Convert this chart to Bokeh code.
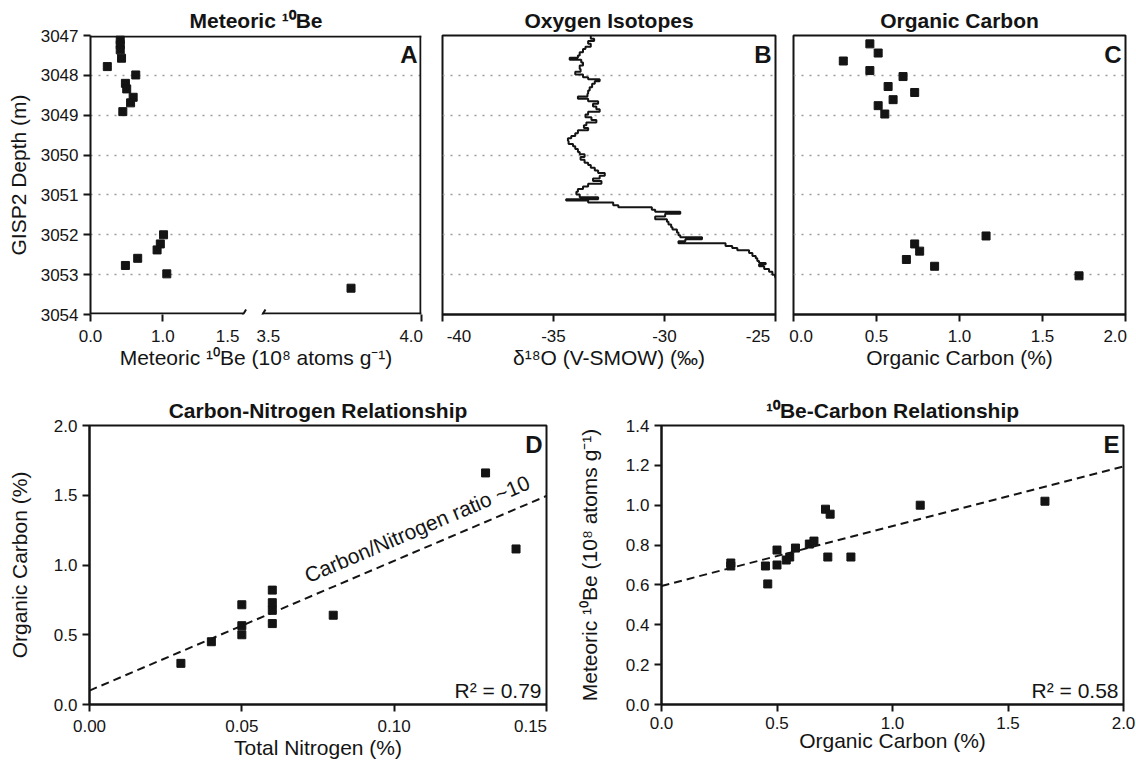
import math
from bokeh.plotting import figure
from bokeh.layouts import column, row
from bokeh.models import Range1d, FixedTicker, Label, LinearAxis
from bokeh.embed import file_html
from bokeh.resources import INLINE

FONT = "Liberation Sans"
INK = "#141414"
GRID = "#9a9a9a"
TICK_PX = 17
AXIS_PX = 21
TITLE_PX = 21
FRAME_H = 279
NB = "\u00a0"

# ---------------- data ----------------
depth_ticks = [3047, 3048, 3049, 3050, 3051, 3052, 3053, 3054]
depth_grid = [3048, 3049, 3050, 3051, 3052, 3053]

# Panel A: meteoric 10Be (1e8 atoms/g) vs depth
be_depth = [3047.11, 3047.23, 3047.36, 3047.57, 3047.78, 3047.99, 3048.20, 3048.34, 3048.55,
            3048.69, 3048.91, 3052.00, 3052.23, 3052.38, 3052.59, 3052.77, 3052.98, 3053.34]
be_value = [0.67, 0.67, 0.67, 0.68, 0.57, 0.79, 0.71, 0.72, 0.77,
            0.75, 0.69, 1.005, 0.98, 0.955, 0.805, 0.71, 1.03, 3.77]
# broken axis: printed labels and the values at which they sit on the drawn scale
be_tick_values = [0.44, 1.0, 1.5, 3.5, 4.0]
be_tick_labels = ["0.0", "1.0", "1.5", "3.5", "4.0"]
be_tick_marked = [True, True, False, False, True]
be_break = [1.62, 1.77]          # display positions of the axis break
be_right_origin = 1.815          # display position of 3.5
be_right_stretch = 2.37          # display units per unit beyond the break

# Panel B: d18O step profile
o18_depth = [3047.00, 3047.08, 3047.14, 3047.21, 3047.28, 3047.34, 3047.42, 3047.50, 3047.56, 3047.61,
             3047.68, 3047.75, 3047.84, 3047.91, 3047.98, 3048.05, 3048.10, 3048.15, 3048.21, 3048.30,
             3048.38, 3048.46, 3048.53, 3048.59, 3048.65, 3048.71, 3048.78, 3048.85, 3048.91, 3048.98,
             3049.05, 3049.12, 3049.18, 3049.25, 3049.32, 3049.38, 3049.45, 3049.52, 3049.58, 3049.65,
             3049.72, 3049.78, 3049.85, 3049.92, 3049.98, 3050.05, 3050.12, 3050.19, 3050.25, 3050.32,
             3050.39, 3050.45, 3050.52, 3050.59, 3050.65, 3050.72, 3050.79, 3050.85, 3050.92, 3050.99,
             3051.06, 3051.11, 3051.14, 3051.19, 3051.26, 3051.31, 3051.37, 3051.42, 3051.47, 3051.54,
             3051.61, 3051.67, 3051.74, 3051.81, 3051.87, 3051.94, 3052.01, 3052.06, 3052.11, 3052.16,
             3052.21, 3052.28, 3052.33, 3052.39, 3052.46, 3052.53, 3052.59, 3052.66, 3052.71, 3052.74,
             3052.79, 3052.86, 3052.93, 3053.00, 3053.06]
o18_value = [-33.32, -33.17, -33.44, -33.32, -33.56, -33.67, -33.82, -33.90, -34.27, -33.75,
             -33.67, -33.82, -33.78, -34.02, -33.67, -33.44, -32.92, -33.14, -33.26, -33.37,
             -33.44, -33.47, -33.90, -33.44, -32.99, -33.22, -33.07, -32.92, -33.44, -33.56,
             -33.29, -33.07, -33.52, -33.63, -33.44, -33.90, -34.02, -34.20, -34.35, -34.32,
             -34.12, -34.02, -33.90, -33.82, -33.60, -33.78, -33.60, -33.44, -33.32, -33.14,
             -32.99, -32.69, -32.92, -33.22, -32.84, -33.44, -33.67, -33.90, -33.97, -33.82,
             -32.99, -34.43, -33.44, -32.31, -32.08, -30.57, -30.42, -29.29, -29.97, -30.42,
             -29.89, -29.82, -29.70, -29.64, -29.44, -29.37, -29.29, -28.31, -29.06, -29.37,
             -27.25, -26.95, -26.72, -26.19, -26.04, -25.89, -25.82, -25.74, -25.44, -25.74,
             -25.51, -25.29, -25.14, -25.02, -25.00]
o18_ticks = [-40, -35, -30, -25]
o18_labels = ["-40", "-35", "-30", "-25"]

# Panel C: organic carbon (%) vs depth
oc_depth = [3047.21, 3047.44, 3047.64, 3047.88, 3048.03, 3048.28, 3048.43, 3048.61, 3048.76, 3048.97,
            3052.03, 3052.23, 3052.41, 3052.62, 3052.79, 3053.03]
oc_value = [0.46, 0.51, 0.30, 0.46, 0.66, 0.57, 0.73, 0.60, 0.51, 0.55,
            1.16, 0.73, 0.76, 0.68, 0.85, 1.72]
oc_ticks = [0.0, 0.5, 1.0, 1.5, 2.0]
oc_labels = ["0.0", "0.5", "1.0", "1.5", "2.0"]

# Panel D: carbon vs nitrogen
cn_nitrogen = [0.030, 0.040, 0.050, 0.050, 0.050, 0.060, 0.060, 0.060, 0.060, 0.080, 0.130, 0.140]
cn_carbon = [0.295, 0.450, 0.500, 0.565, 0.715, 0.580, 0.675, 0.730, 0.820, 0.640, 1.660, 1.115]
cn_fit_slope, cn_fit_intercept = 9.3, 0.10
cn_x_ticks = [0.0, 0.05, 0.10, 0.15]
cn_x_labels = ["0.00", "0.05", "0.10", "0.15"]
cn_y_ticks = [0.0, 0.5, 1.0, 1.5, 2.0]
cn_y_labels = ["0.0", "0.5", "1.0", "1.5", "2.0"]

# Panel E: 10Be vs carbon
bc_carbon = [0.30, 0.30, 0.45, 0.46, 0.50, 0.50, 0.54, 0.555, 0.58, 0.64, 0.66, 0.71, 0.73, 0.72, 0.82, 1.12, 1.66]
bc_be = [0.71, 0.695, 0.695, 0.605, 0.775, 0.70, 0.725, 0.74, 0.785, 0.805, 0.82, 0.98, 0.955, 0.74, 0.74, 1.00, 1.02]
bc_fit_slope, bc_fit_intercept = 0.30, 0.595
bc_x_ticks = [0.0, 0.5, 1.0, 1.5, 2.0]
bc_x_labels = ["0.0", "0.5", "1.0", "1.5", "2.0"]
bc_y_ticks = [0.0, 0.2, 0.4, 0.6, 0.8, 1.0, 1.2, 1.4]
bc_y_labels = ["0.0", "0.2", "0.4", "0.6", "0.8", "1.0", "1.2", "1.4"]


# ---------------- helpers ----------------
def be_to_x(v):
    if v <= 2.0:
        return v
    return be_right_origin + (v - 3.5) * be_right_stretch


def style_axis(ax):
    ax.axis_line_color = INK
    ax.axis_line_width = 2
    ax.major_tick_line_color = INK
    ax.major_tick_line_width = 2
    ax.major_tick_out = 7
    ax.major_tick_in = 0
    ax.minor_tick_out = 0
    ax.minor_tick_in = 0
    ax.major_label_text_font = FONT
    ax.major_label_text_font_size = f"{TICK_PX}px"
    ax.major_label_text_color = INK
    ax.major_label_standoff = 5
    ax.axis_label_text_font = FONT
    ax.axis_label_text_font_size = f"{AXIS_PX}px"
    ax.axis_label_text_font_style = "normal"
    ax.axis_label_text_color = INK
    ax.axis_label_standoff = -3


def make_fig(width, height, left, right, top, bottom, xr, yr, title):
    p = figure(width=width, height=height, x_range=xr, y_range=yr, title=title,
               toolbar_location=None, output_backend="svg",
               min_border_left=left, min_border_right=right,
               min_border_top=top, min_border_bottom=bottom)
    p.background_fill_color = "white"
    p.border_fill_color = "white"
    p.outline_line_color = INK
    p.outline_line_width = 2
    p.outline_line_alpha = 1
    p.title.align = "center"
    p.title.text_font = FONT
    p.title.text_font_size = f"{TITLE_PX}px"
    p.title.text_font_style = "bold"
    p.title.text_color = INK
    p.title.standoff = 7
    p.grid.visible = False
    for ax in p.axis:
        style_axis(ax)
    return p


def y_inside_top(yr, px):
    return yr.end - px * (yr.end - yr.start) / FRAME_H


def y_inside_bottom(yr, px):
    return yr.start + px * (yr.end - yr.start) / FRAME_H


def panel_letter(p, text):
    p.add_layout(Label(x=p.x_range.end, y=y_inside_top(p.y_range, 5), text=text, x_offset=-4,
                       text_align="right", text_baseline="top", text_font=FONT,
                       text_font_size="24px", text_font_style="bold", text_color=INK))


def depth_grid_style(p):
    p.ygrid.visible = True
    p.ygrid.ticker = FixedTicker(ticks=depth_grid)
    p.ygrid.grid_line_color = GRID
    p.ygrid.grid_line_dash = "2 6"
    p.ygrid.grid_line_width = 1.5


def labels_map(ticks, labels, nudge=None):
    # nudge: number of no-break spaces placed before (+) or after (-) an edge label
    m = dict(zip(ticks, labels))
    for t, shift in (nudge or {}).items():
        pad = NB * abs(shift)
        m[t] = (pad + m[t]) if shift > 0 else (m[t] + pad)
    return m


SQ = dict(marker="square", size=8, fill_color=INK, line_color=INK, line_width=1)

TOP_H, BOT_H = 380, 384

# ---------------- Panel A ----------------
a_xr = Range1d(be_to_x(be_tick_values[0]), be_to_x(be_tick_values[-1]))
a_yr = Range1d(3054, 3047)
A_W = 331
pa = make_fig(432, TOP_H, 90, 11, 35, 66, a_xr, a_yr, "Meteoric \u00b9\u2070Be")
depth_grid_style(pa)
pa.outline_line_color = None
pa.yaxis.ticker = FixedTicker(ticks=depth_ticks)
pa.yaxis.axis_label = "GISP2 Depth (m)"
pa.yaxis.axis_label_standoff = 8
# inner axis: tick marks only where the figure has them
marked = [be_to_x(v) for v, m in zip(be_tick_values, be_tick_marked) if m]
pa.xaxis.ticker = FixedTicker(ticks=marked)
pa.xaxis.axis_line_color = None
pa.xaxis.major_label_text_font_size = "0px"
pa.xaxis.major_label_standoff = 0
pa.xaxis.major_label_overrides = {t: "" for t in marked}
# outer axis: the printed labels
ax2 = LinearAxis()
style_axis(ax2)
ax2.axis_line_color = None
ax2.major_tick_out = 0
ax2.major_label_standoff = 5
ax2.ticker = FixedTicker(ticks=[be_to_x(v) for v in be_tick_values])
ax2.major_label_overrides = labels_map([be_to_x(v) for v in be_tick_values], be_tick_labels,
                                       {be_to_x(be_tick_values[-1]): -2})
ax2.axis_label = "Meteoric \u00b9\u2070Be (10\u2078 atoms g\u207b\u00b9)"
pa.add_layout(ax2, "below")
# frame drawn inside the plot area so the bottom edge can show the axis break
px_x = (a_xr.end - a_xr.start) / A_W
px_y = (a_yr.start - a_yr.end) / FRAME_H
top_y = a_yr.end + 1 * px_y
bot_y = a_yr.start - 1 * px_y
right_x = a_xr.end - 1 * px_x
fr = dict(line_color=INK, line_width=2)
pa.segment(x0=[a_xr.start, right_x, a_xr.start, be_break[1]],
           y0=[top_y, a_yr.end, bot_y, bot_y],
           x1=[a_xr.end, right_x, be_break[0], a_xr.end],
           y1=[top_y, a_yr.start, bot_y, bot_y], **fr)
pa.segment(x0=[b - 3 * px_x for b in be_break], y0=[a_yr.start + 5 * px_y] * 2,
           x1=[b + 3 * px_x for b in be_break], y1=[a_yr.start - 5 * px_y] * 2, **fr)
pa.scatter([be_to_x(v) for v in be_value], be_depth, **SQ)
panel_letter(pa, "A")

# ---------------- Panel B ----------------
pb = make_fig(352, TOP_H, 10, 9, 35, 66, Range1d(-40, -25), Range1d(3054, 3047), "Oxygen Isotopes")
depth_grid_style(pb)
pb.yaxis.visible = False
pb.xaxis.axis_label = "\u03b4\u00b9\u2078O (V-SMOW) (\u2030)"
pb.xaxis.ticker = FixedTicker(ticks=o18_ticks)
pb.xaxis.major_label_overrides = labels_map(o18_ticks, o18_labels, {o18_ticks[0]: 3, o18_ticks[-1]: -3})
sx, sy = [], []
for i, (d, v) in enumerate(zip(o18_depth, o18_value)):
    d_next = o18_depth[i + 1] if i + 1 < len(o18_depth) else d + 0.03
    sx += [v, v]
    sy += [d, d_next]
pb.line(sx, sy, line_color=INK, line_width=2)
panel_letter(pb, "B")

# ---------------- Panel C ----------------
pc = make_fig(352, TOP_H, 9, 11, 35, 66, Range1d(0, 2.0), Range1d(3054, 3047), "Organic Carbon")
depth_grid_style(pc)
pc.yaxis.visible = False
pc.xaxis.axis_label = "Organic Carbon (%)"
pc.xaxis.ticker = FixedTicker(ticks=oc_ticks)
pc.xaxis.major_label_overrides = labels_map(oc_ticks, oc_labels, {oc_ticks[0]: 1, oc_ticks[-1]: -2})
pc.scatter(oc_value, oc_depth, **SQ)
panel_letter(pc, "C")

# ---------------- Panel D ----------------
d_xr, d_yr = Range1d(0, 0.15), Range1d(0, 2.0)
pd_ = make_fig(556, BOT_H, 89, 10, 45, 60, d_xr, d_yr, "Carbon-Nitrogen Relationship")
pd_.xaxis.axis_label = "Total Nitrogen (%)"
pd_.yaxis.axis_label = "Organic Carbon (%)"
pd_.yaxis.axis_label_standoff = 20
pd_.xaxis.ticker = FixedTicker(ticks=cn_x_ticks)
pd_.xaxis.major_label_overrides = labels_map(cn_x_ticks, cn_x_labels, {cn_x_ticks[-1]: -2})
pd_.yaxis.ticker = FixedTicker(ticks=cn_y_ticks)
pd_.yaxis.major_label_overrides = dict(zip(cn_y_ticks, cn_y_labels))
fx = [d_xr.start, d_xr.end]
pd_.line(fx, [cn_fit_intercept + cn_fit_slope * x for x in fx], line_color=INK, line_width=2,
         line_dash="8 5")
pd_.scatter(cn_nitrogen, cn_carbon, **SQ)
ang = math.degrees(math.atan(cn_fit_slope * (FRAME_H / (d_yr.end - d_yr.start)) / (457 / (d_xr.end - d_xr.start))))
lx = 0.109
pd_.add_layout(Label(x=lx, y=cn_fit_intercept + cn_fit_slope * lx + 0.07, text="Carbon/Nitrogen ratio ~10",
                     angle=ang, angle_units="deg", text_align="center", text_baseline="bottom",
                     text_font=FONT, text_font_size=f"{AXIS_PX}px", text_color=INK))
pd_.add_layout(Label(x=d_xr.end, y=y_inside_bottom(d_yr, 3), x_offset=-5, text="R\u00b2 = 0.79",
                     text_align="right", text_baseline="bottom", text_font=FONT,
                     text_font_size=f"{AXIS_PX}px", text_color=INK))
panel_letter(pd_, "D")

# ---------------- Panel E ----------------
e_xr, e_yr = Range1d(0, 2.0), Range1d(0, 1.4)
pe = make_fig(580, BOT_H, 105, 13, 45, 60, e_xr, e_yr, "\u00b9\u2070Be-Carbon Relationship")
pe.xaxis.axis_label = "Organic Carbon (%)"
pe.yaxis.axis_label = "Meteoric \u00b9\u2070Be (10\u2078 atoms g\u207b\u00b9)"
pe.yaxis.axis_label_standoff = 22
pe.xaxis.ticker = FixedTicker(ticks=bc_x_ticks)
pe.xaxis.major_label_overrides = dict(zip(bc_x_ticks, bc_x_labels))
pe.yaxis.ticker = FixedTicker(ticks=bc_y_ticks)
pe.yaxis.major_label_overrides = dict(zip(bc_y_ticks, bc_y_labels))
fx = [e_xr.start, e_xr.end]
pe.line(fx, [bc_fit_intercept + bc_fit_slope * x for x in fx], line_color=INK, line_width=2,
        line_dash="8 5")
pe.scatter(bc_carbon, bc_be, **SQ)
pe.add_layout(Label(x=e_xr.end, y=y_inside_bottom(e_yr, 3), x_offset=-5, text="R\u00b2 = 0.58",
                    text_align="right", text_baseline="bottom", text_font=FONT,
                    text_font_size=f"{AXIS_PX}px", text_color=INK))
panel_letter(pe, "E")

layout = column(row(pa, pb, pc), row(pd_, pe))
open("out.html", "w").write(file_html(layout, INLINE))
